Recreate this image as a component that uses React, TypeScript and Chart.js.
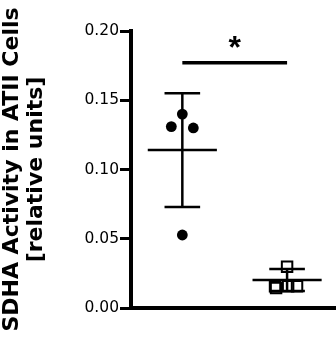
import React, { useEffect, useRef } from 'react';
import { Chart, registerables } from 'chart.js';

Chart.register(...registerables);

// Groups (x-axis labels are not visible in the reference)
const groupNames = ['Group 1', 'Group 2'];
const groupPos = [1, 2];

// Individual measurements
const group1Values = [0.131, 0.140, 0.130, 0.0527];
const group1Jitter = [-0.105, 0, 0.105, 0];
const group2Values = [0.0298, 0.0157, 0.0145, 0.0157, 0.0157];
const group2Jitter = [0, -0.115, -0.105, 0.01, 0.095];

// Summary statistics (mean ± SD)
const means = [0.114, 0.0202];
const sds = [0.041, 0.008];

// Significance
const sigLevel = 0.177;
const sigLabel = '*';

// Y ticks
const yTicks = [0.0, 0.05, 0.1, 0.15, 0.2];

const yTitle = ['SDHA Activity in ATII Cells', '[relative units]'];

const MEAN_HALF = 0.33;
const CAP_HALF = 0.17;

const overlayPlugin = {
  id: 'overlay',
  afterDatasetsDraw(chart: any) {
    const { ctx, scales } = chart;
    const x = scales.x;
    const y = scales.y;
    ctx.save();
    ctx.strokeStyle = '#000';
    ctx.lineCap = 'butt';
    const seg = (x1: number, y1: number, x2: number, y2: number, w: number) => {
      ctx.lineWidth = w;
      ctx.beginPath();
      ctx.moveTo(x1, y1);
      ctx.lineTo(x2, y2);
      ctx.stroke();
    };
    groupPos.forEach((p, i) => {
      const cx = x.getPixelForValue(p);
      const top = y.getPixelForValue(means[i] + sds[i]);
      const bot = y.getPixelForValue(means[i] - sds[i]);
      const my = y.getPixelForValue(means[i]);
      seg(cx, top, cx, bot, 2.5);
      seg(x.getPixelForValue(p - CAP_HALF), top, x.getPixelForValue(p + CAP_HALF), top, 2.5);
      seg(x.getPixelForValue(p - CAP_HALF), bot, x.getPixelForValue(p + CAP_HALF), bot, 2.5);
      seg(x.getPixelForValue(p - MEAN_HALF), my, x.getPixelForValue(p + MEAN_HALF), my, 2.5);
    });
    const sy = y.getPixelForValue(sigLevel);
    const sx1 = x.getPixelForValue(groupPos[0]);
    const sx2 = x.getPixelForValue(groupPos[1]);
    seg(sx1, sy, sx2, sy, 3.5);
    ctx.fillStyle = '#000';
    ctx.font = 'bold 32px "Liberation Sans", Arial, sans-serif';
    ctx.textAlign = 'center';
    ctx.textBaseline = 'alphabetic';
    ctx.fillText(sigLabel, (sx1 + sx2) / 2, sy - 5);
    ctx.restore();
  },
};

export default function App() {
  const ref = useRef<HTMLCanvasElement | null>(null);
  useEffect(() => {
    document.body.style.margin = '0';
    const canvas = ref.current;
    if (!canvas) return;
    const chart = new Chart(canvas, {
      type: 'scatter',
      data: {
        datasets: [
          {
            label: groupNames[0],
            data: group1Values.map((v, i) => ({ x: groupPos[0] + group1Jitter[i], y: v })),
            pointStyle: 'circle',
            pointRadius: 5.4,
            backgroundColor: '#000',
            borderColor: '#000',
            borderWidth: 0,
          },
          {
            label: groupNames[1],
            data: group2Values.map((v, i) => ({ x: groupPos[1] + group2Jitter[i], y: v })),
            pointStyle: 'rect',
            pointRadius: 7.4,
            backgroundColor: 'rgba(0,0,0,0)',
            borderColor: '#000',
            borderWidth: 2,
          },
        ],
      },
      options: {
        responsive: false,
        animation: false,
        events: [],
        layout: { autoPadding: false, padding: { top: 31, bottom: 31, left: 0, right: 0 } },
        plugins: {
          legend: { display: false },
          tooltip: { enabled: false },
        },
        scales: {
          x: {
            type: 'linear',
            min: 0.51,
            max: 2.467,
            ticks: { display: false },
            grid: { display: false },
            border: { display: true, color: '#000', width: 4 },
            afterFit: (s: any) => {
              s.height = 0;
            },
          },
          y: {
            type: 'linear',
            min: 0,
            max: 0.2,
            afterBuildTicks: (s: any) => {
              s.ticks = yTicks.map((v) => ({ value: v }));
            },
            ticks: {
              color: '#000',
              padding: 1,
              font: { family: '"DejaVu Sans", sans-serif', size: 15.5 },
              callback: (v: any) => Number(v).toFixed(2),
            },
            grid: {
              drawOnChartArea: false,
              drawTicks: true,
              tickLength: 11,
              tickWidth: 3,
              tickColor: '#000',
            },
            border: { display: true, color: '#000', width: 4 },
            title: {
              display: true,
              text: yTitle,
              color: '#000',
              font: { family: '"DejaVu Sans", sans-serif', size: 22, weight: 'bold', lineHeight: 1.1 },
              padding: { top: 0, bottom: 0 },
            },
            afterFit: (s: any) => {
              s.width = 131;
            },
          },
        },
      },
      plugins: [overlayPlugin],
    });
    return () => chart.destroy();
  }, []);
  return (
    <div style={{ width: 336, height: 339 }}>
      <canvas ref={ref} width={336} height={339} style={{ display: 'block' }} />
    </div>
  );
}
